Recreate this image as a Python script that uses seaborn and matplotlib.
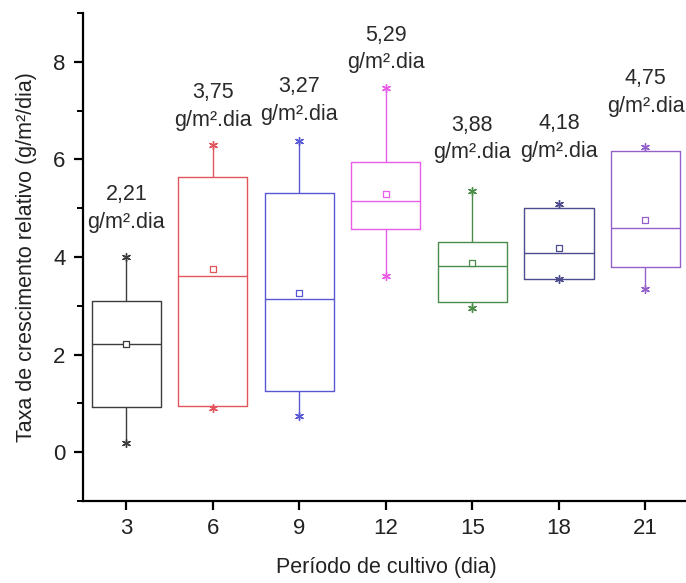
import numpy as np
import pandas as pd
import matplotlib
matplotlib.use("Agg")
import matplotlib.pyplot as plt
import seaborn as sns
from matplotlib.ticker import MultipleLocator

# Período de cultivo (dias)
dias = [3, 6, 9, 12, 15, 18, 21]

# Estatísticas de cada caixa (g/m²/dia)
minimo = [0.18, 0.90, 0.74, 3.62, 2.96, 3.54, 3.35]
q1 = [0.93, 0.95, 1.25, 4.57, 3.08, 3.55, 3.79]
mediana = [2.22, 3.61, 3.13, 5.14, 3.81, 4.08, 4.60]
q3 = [3.09, 5.64, 5.31, 5.94, 4.31, 5.00, 6.18]
maximo = [4.00, 6.30, 6.38, 7.46, 5.36, 5.09, 6.26]
media = [2.21, 3.75, 3.27, 5.29, 3.88, 4.18, 4.75]

# Altura dos rótulos de média
altura_rotulo = [4.99, 7.08, 7.21, 8.26, 6.42, 6.45, 7.37]

cores = ["#3c3c3c", "#e4545c", "#5858d6", "#e85ce8", "#4a8c4a", "#4c4c8e", "#9460cc"]

sns.set_theme(style="ticks")
plt.rcParams["font.family"] = ["Liberation Sans", "DejaVu Sans"]

linhas = []
for d, a, b, c, e, f in zip(dias, minimo, q1, mediana, q3, maximo):
    for v in (a, b, c, e, f):
        linhas.append({"dia": d, "taxa": v})
df = pd.DataFrame(linhas)

fig = plt.figure(figsize=(6.86, 5.83), dpi=100)
ax = fig.add_axes([0.121, 0.1407, 0.883, 0.837])

paleta = dict(zip(dias, cores))
sns.boxplot(data=df, x="dia", y="taxa", hue="dia", palette=paleta,
            native_scale=True, dodge=False, width=0.8, fill=False,
            whis=(0, 100), showcaps=False, showfliers=False,
            linewidth=1.0, legend=False, ax=ax)

# Extremos (asteriscos) e médias (quadrados abertos)
for d, lo, hi, m, cor in zip(dias, minimo, maximo, media, cores):
    ax.scatter([d, d], [lo, hi], marker=(6, 2, 0), s=32, color=cor,
               linewidths=1.0, zorder=5)
    ax.scatter([d], [m], marker="s", s=22, facecolors="white",
               edgecolors=cor, linewidths=0.9, zorder=6)

for d, m, y in zip(dias, media, altura_rotulo):
    texto = f"{m:.2f}".replace(".", ",") + "\ng/m².dia"
    ax.text(d, y, texto, ha="center", va="center", fontsize=15.5,
            color="#2a2a2a", linespacing=1.4)

ax.set_xlim(1.5, 22.5)
ax.set_ylim(-1, 9)
ax.set_xticks(dias)
ax.set_xticklabels([str(d) for d in dias])
ax.set_yticks([0, 2, 4, 6, 8])
ax.yaxis.set_minor_locator(MultipleLocator(1))

ax.set_xlabel("Período de cultivo (dia)", fontsize=15.5, labelpad=13, color="#222222")
ax.set_ylabel("Taxa de crescimento relativo (g/m²/dia)", fontsize=15.5,
              labelpad=12, color="#222222")

for s in ("top", "right"):
    ax.spines[s].set_visible(False)
for s in ("left", "bottom"):
    ax.spines[s].set_linewidth(1.6)
    ax.spines[s].set_color("black")

ax.tick_params(axis="both", which="major", length=6.5, width=1.6,
               labelsize=16, colors="black", labelcolor="#222222", pad=6)
ax.tick_params(axis="y", which="minor", length=4, width=1.4, colors="black")
ax.set_facecolor("white")
fig.patch.set_facecolor("white")

fig.savefig("out.png", dpi=100, facecolor="white")
